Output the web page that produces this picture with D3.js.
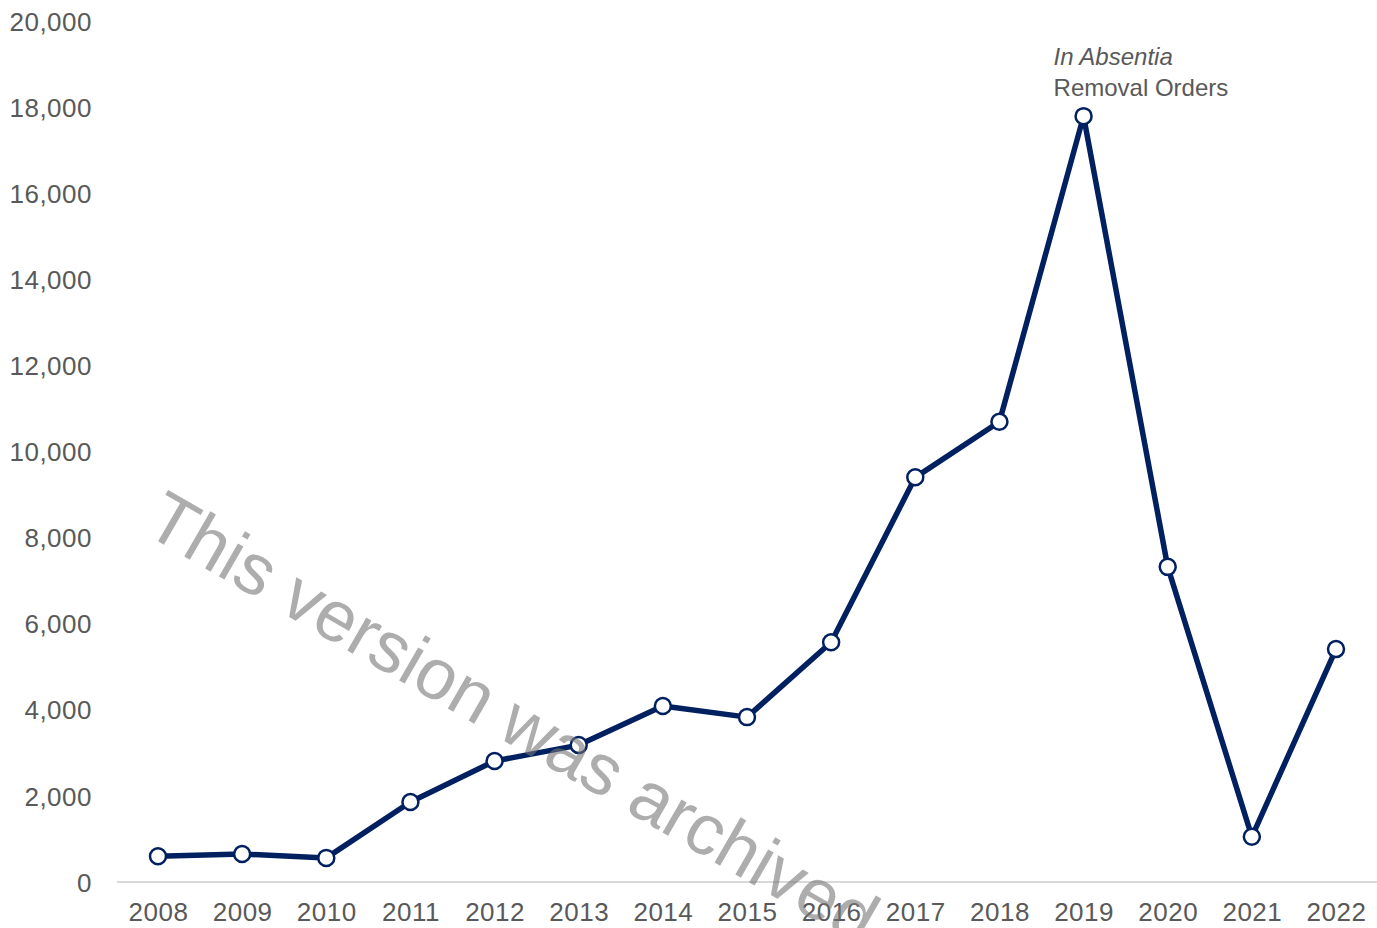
<!DOCTYPE html>
<html><head><meta charset="utf-8">
<script src="https://cdn.jsdelivr.net/npm/d3@7"></script>
<style>html,body{margin:0;padding:0;background:#fff;overflow:hidden}</style>
</head><body>
<svg id="c" width="1377" height="928"></svg>
<script>
const years = [2008,2009,2010,2011,2012,2013,2014,2015,2016,2017,2018,2019,2020,2021,2022];
const orders = [600,650,560,1860,2810,3180,4090,3830,5570,9400,10690,17790,7320,1050,5410];
const yTicks = [0,2000,4000,6000,8000,10000,12000,14000,16000,18000,20000];
const annotationItalic = "In Absentia";
const annotationPlain = "Removal Orders";
const watermark = "This version was archived on";

const svg = d3.select("#c");
const font = "'Liberation Sans', Arial, sans-serif";
const x = d3.scalePoint().domain(years).range([158,1336]);
const y = d3.scaleLinear().domain([0,20000]).range([882,21]);

// baseline
svg.append("line").attr("x1",117).attr("x2",1377).attr("y1",y(0)).attr("y2",y(0))
  .attr("stroke","#d9d9d9").attr("stroke-width",2);

// y axis labels
const ya = svg.append("g").attr("transform","translate(92,0)")
  .call(d3.axisLeft(y).tickValues(yTicks).tickSize(0).tickPadding(0).tickFormat(d3.format(",")));
ya.select(".domain").remove();
ya.selectAll("text").attr("font-family",font).attr("font-size",26).attr("letter-spacing",0.5)
  .attr("fill","#595959").attr("dy","0.35em");

// x axis labels
const xa = svg.append("g").attr("transform",`translate(0,${y(0)})`)
  .call(d3.axisBottom(x).tickSize(0).tickPadding(21).tickFormat(d3.format("d")));
xa.select(".domain").remove();
xa.selectAll("text").attr("font-family",font).attr("font-size",26).attr("letter-spacing",0.5).attr("fill","#595959");

const data = years.map((yr,i)=>({yr,v:orders[i]}));
svg.append("path").datum(data)
  .attr("d",d3.line().x(d=>x(d.yr)).y(d=>y(d.v)))
  .attr("fill","none").attr("stroke","#002060").attr("stroke-width",5.5).attr("stroke-linejoin","round");
svg.selectAll("circle.m").data(data).join("circle").attr("class","m")
  .attr("cx",d=>x(d.yr)).attr("cy",d=>y(d.v)).attr("r",8)
  .attr("fill","#fff").attr("stroke","#002060").attr("stroke-width",2.5);

// annotation
const ax = x(2019)-30;
svg.append("text").attr("x",ax).attr("y",65).attr("font-family",font).attr("font-size",24)
  .attr("font-style","italic").attr("fill","#595959").text(annotationItalic);
svg.append("text").attr("x",ax).attr("y",96).attr("font-family",font).attr("font-size",24)
  .attr("fill","#595959").text(annotationPlain);

// watermark
svg.append("text").attr("transform","translate(142,532) rotate(30)")
  .attr("font-family",font).attr("font-size",72).attr("fill","#777").attr("fill-opacity",0.6)
  .text(watermark);
</script>
</body></html>
